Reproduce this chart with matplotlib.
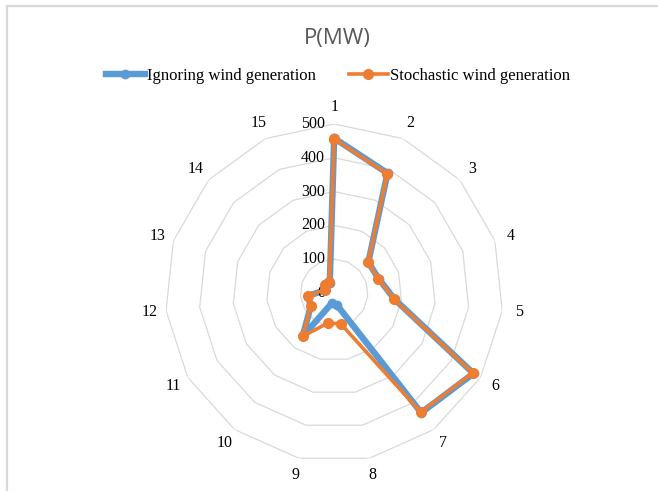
import matplotlib.pyplot as plt
import matplotlib.patches as mpatches
import matplotlib.transforms as mtransforms
import numpy as np

# 15 units, generation in MW
units = [str(i) for i in range(1, 16)]
ignoring_wind = [458, 388, 136, 138, 180, 476, 438, 35, 30, 159, 80, 77, 27, 38, 32]
stochastic_wind = [456, 386, 135, 137, 178, 473, 436, 93, 91, 159, 80, 78, 30, 35, 35]
r_ticks = [0, 100, 200, 300, 400, 500]

BLUE = "#5B9BD5"
ORANGE = "#ED7D31"
GRID = "#d9d9d9"
SERIF = "Liberation Serif"

fig = plt.figure(figsize=(6.58, 4.91), dpi=100)
ax = fig.add_axes([0.2510, 0.0591, 0.5137, 0.6884], projection="polar")
ax.set_theta_zero_location("N")
ax.set_theta_direction(-1)

n = len(units)
theta = np.linspace(0, 2 * np.pi, n, endpoint=False)
theta_c = np.append(theta, theta[0])

# polygon gridlines instead of circles
for r in r_ticks[1:]:
    ax.plot(theta_c, [r] * (n + 1), color=GRID, lw=0.9, zorder=1)

ax.plot(theta_c, ignoring_wind + ignoring_wind[:1], color=BLUE, lw=4.6,
        marker="o", markersize=6, solid_joinstyle="round", zorder=3,
        label="Ignoring wind generation")
ax.plot(theta_c, stochastic_wind + stochastic_wind[:1], color=ORANGE, lw=2.6,
        marker="o", markersize=7, solid_joinstyle="round", zorder=4,
        label="Stochastic wind generation")

ax.set_ylim(0, 500)
ax.grid(False)
ax.spines["polar"].set_visible(False)
ax.set_xticks([])
ax.set_yticks([])
ax.patch.set_visible(False)

# radial value labels just left of the first axis
lbl_tr = mtransforms.offset_copy(ax.transData, fig=fig, x=-9, y=0, units="dots")
for r in r_ticks:
    ax.text(0, r, str(r), transform=lbl_tr, ha="right", va="center",
            fontsize=11.5, family=SERIF, color="#000000")

for t, name in zip(theta, units):
    ax.text(t, 550, name, ha="center", va="center", fontsize=11.5,
            family=SERIF, color="#000000")

fig.text(0.512, 0.922, "P(MW)", ha="center", va="center", fontsize=16,
         family="Open Sans", color="#595959")

fig.legend(loc="center", bbox_to_anchor=(0.514, 0.845), ncol=2, frameon=False,
           prop={"family": SERIF, "size": 12}, handlelength=2.3,
           handletextpad=0.15, columnspacing=2.0)

# chart-area border (only left/top fall inside the image)
fig.patches.append(mpatches.Rectangle((6.5 / 658, -0.2), 1.5, 1.2 - 5.5 / 491,
                                      transform=fig.transFigure, fill=False,
                                      edgecolor=GRID, lw=1.6))

fig.savefig("out.png", dpi=100)
